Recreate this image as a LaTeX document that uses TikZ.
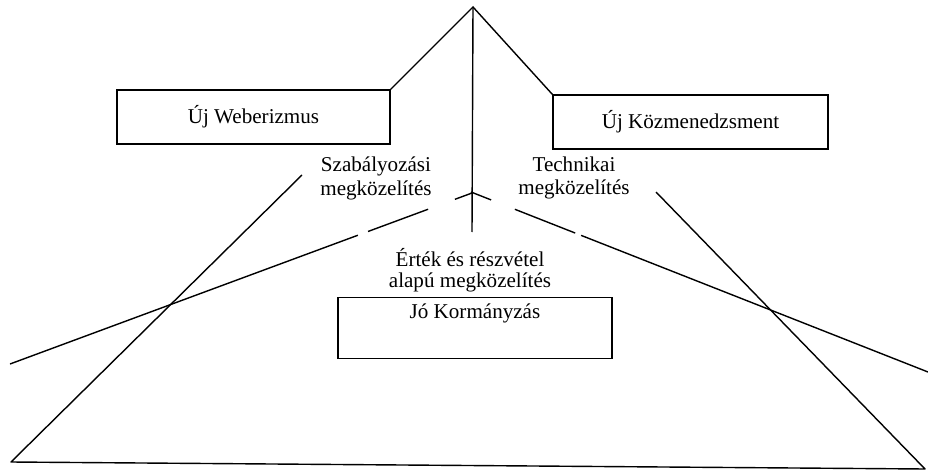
\documentclass[tikz,border=0pt]{standalone}
\usepackage{fontspec}
\setmainfont{Liberation Serif}
\usepackage{tikz}
\usetikzlibrary{calc}

\tikzset{
  box/.style={draw, line width=1pt, minimum height=1.35cm, inner sep=4pt},
  lbl/.style={align=center, font=\fontsize{15}{17}\selectfont},
}

\begin{document}
\begin{tikzpicture}[line width=1pt, font=\fontsize{15}{17}\selectfont]

        \useasboundingbox (0,0) rectangle (23.2,11.825);

        % Draw boxes
        \node[box, minimum width=6.825cm] (web) at (6.3375,8.9) {Új Weberizmus};
        \node[box, minimum width=6.875cm] (kozmen) at (17.2625,8.775) {Új Közmenedzsment};
        \node[box, minimum width=6.85cm, text height=11pt, text depth=24.4pt, anchor=north] (jo) at (11.875,4.4) {Jó Kormányzás};

        % Draw labels
        \node[lbl] (szab) at (9.4,7.375) {Szabályozási\\megközelítés};
        \node[lbl] (tech) at (14.35,7.375) {Technikai\\megközelítés};
        \node[lbl, font=\fontsize{15}{15}\selectfont] (ertek) at (11.75,5.075) {Érték és részvétel\\alapú megközelítés};

        % Draw apex and its branches
        \coordinate (apex) at (11.825,11.65);
        \coordinate (stem) at (11.8,6.025);
        \draw (web.north east) -- (apex) -- (kozmen.north west);
        \draw (apex) -- (stem);

        % Draw the big trapezoid
        \coordinate (ltop) at (7.55,7.45);
        \coordinate (lbot) at (0.275,0.275);
        \coordinate (rbot) at (23.125,0.1);
        \coordinate (rtop) at (16.4,7.025);
        \draw[line join=round] (ltop) -- (lbot) -- (rbot) -- (rtop);

        % Draw broken lines
        \coordinate (lstart) at (11.8,7.0);
        \coordinate (lend) at (0.25,2.725);
        \coordinate (rstart) at (11.775,7.025);
        \coordinate (rend) at (23.2,2.525);
        \foreach \a/\b in {0/0.037, 0.095/0.225, 0.247/1} {
            \draw ($(lstart)!\a!(lend)$) -- ($(lstart)!\b!(lend)$);
        }
        \foreach \a/\b in {0/0.044, 0.096/0.228, 0.241/1} {
            \draw ($(rstart)!\a!(rend)$) -- ($(rstart)!\b!(rend)$);
        }

\end{tikzpicture}
\end{document}
